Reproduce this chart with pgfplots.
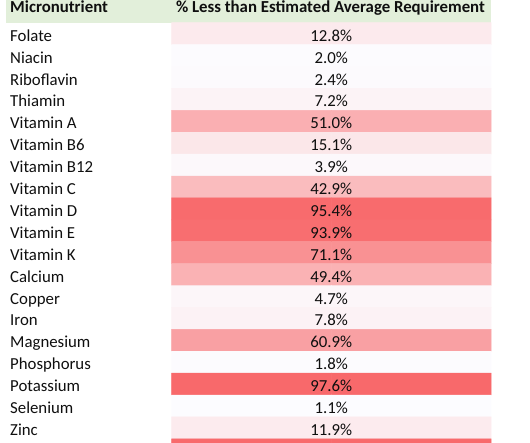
\documentclass[border=0pt]{standalone}
\usepackage{fontspec}
\setmainfont{Carlito}
\usepackage{pgfplots}
\usepackage{pgfplotstable}
\pgfplotsset{compat=1.18}
\definecolor{hdr}{RGB}{226,239,218}
\definecolor{txt}{RGB}{15,15,15}
\newcommand{\cellfont}{\fontsize{16.8bp}{20bp}\selectfont}
% colour cells: two columns per row (x = cell-half centres, y = row centre)
\pgfplotstableread{
x y v
251.5 33.65 12.8
411.2 33.65 12.8
251.5 55.55 2.0
411.2 55.55 2.0
251.5 77.45 2.4
411.2 77.45 2.4
251.5 99.35 7.2
411.2 99.35 7.2
251.5 121.25 51.0
411.2 121.25 51.0
251.5 143.15 15.1
411.2 143.15 15.1
251.5 165.05 3.9
411.2 165.05 3.9
251.5 186.95 42.9
411.2 186.95 42.9
251.5 208.85 95.4
411.2 208.85 95.4
251.5 230.75 93.9
411.2 230.75 93.9
251.5 252.65 71.1
411.2 252.65 71.1
251.5 274.55 49.4
411.2 274.55 49.4
251.5 296.45 4.7
411.2 296.45 4.7
251.5 318.35 7.8
411.2 318.35 7.8
251.5 340.25 60.9
411.2 340.25 60.9
251.5 362.15 1.8
411.2 362.15 1.8
251.5 384.05 97.6
411.2 384.05 97.6
251.5 405.95 1.1
411.2 405.95 1.1
251.5 427.85 11.9
411.2 427.85 11.9
251.5 449.75 96.0
411.2 449.75 96.0
}\cells
% value labels: baseline of each row
\pgfplotstableread{
yb v
41.2 12.8
63.1 2.0
85.0 2.4
106.9 7.2
128.8 51.0
150.7 15.1
172.6 3.9
194.5 42.9
216.4 95.4
238.3 93.9
260.2 71.1
282.1 49.4
304.0 4.7
325.9 7.8
347.8 60.9
369.7 1.8
391.6 97.6
413.5 1.1
435.4 11.9
}\vals
\begin{document}
\cellfont
\begin{tikzpicture}[font=\cellfont, text=txt]
\begin{axis}[
  width=530bp, height=442bp, scale only axis,
  xmin=0, xmax=530, ymin=0, ymax=442, y dir=reverse,
  axis line style={draw=none}, tick style={draw=none},
  xtick=\empty,
  ytick={41.2,63.1,85.0,106.9,128.8,150.7,172.6,194.5,216.4,238.3,260.2,282.1,304.0,325.9,347.8,369.7,391.6,413.5,435.4},
  yticklabels={Folate,Niacin,Riboflavin,Thiamin,Vitamin A,Vitamin B6,Vitamin B12,Vitamin C,Vitamin D,Vitamin E,Vitamin K,Calcium,Copper,Iron,Magnesium,Phosphorus,Potassium,Selenium,Zinc},
  yticklabel style={anchor=base west, inner sep=0pt, xshift=10bp, font=\cellfont, text=txt},
  colormap={wr}{rgb255=(252,252,255) rgb255=(248,105,107)},
  point meta min=1.1, point meta max=97.6,
  clip=true,
]
\fill[hdr] (axis cs:6.3,0) rectangle (axis cs:491,22.7);
\addplot[matrix plot*, mesh/cols=2, point meta=explicit] table[x=x, y=y, meta=v]{\cells};
\addplot[draw=none, mark=none, point meta=explicit,
  nodes near coords={\pgfmathprintnumber[fixed,fixed zerofill,precision=1,assume math mode=true]{\pgfplotspointmeta}\%},
  every node near coord/.style={anchor=base, inner sep=0pt, font=\cellfont, text=txt}]
  table[x expr=331.35, y=yb, meta=v]{\vals};
\node[anchor=base west, inner sep=0pt, font=\cellfont\bfseries] at (axis cs:10,13) {Micronutrient};
\node[anchor=base, inner sep=0pt, font=\cellfont\bfseries] at (axis cs:330.5,13) {\% Less than Estimated Average Requirement};
\end{axis}
\end{tikzpicture}
\end{document}
